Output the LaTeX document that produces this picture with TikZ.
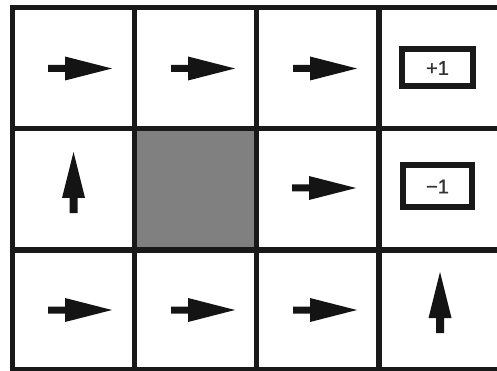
\documentclass[tikz,border=0pt]{standalone}
\usepackage{fontspec}
\setmainfont{Liberation Sans}
\begin{document}
\begin{tikzpicture}[x=1pt,y=-1pt,
  gridline/.style={line width=5.5pt,black!90},
  rewardbox/.style={draw=black!90,line width=6pt},
  rewardtext/.style={font=\fontsize{20}{20}\selectfont,text=black!80,inner sep=0pt},
  rarrow/.pic={\fill[black!92] (-32,-3.5) -- (-15,-3.5) -- (-15,-12) -- (32,0) -- (-15,12) -- (-15,3.5) -- (-32,3.5) -- cycle;},
  uarrow/.pic={\fill[black!92] (-4,30.5) -- (-4,15.5) -- (-11.5,15.5) -- (0,-30.5) -- (11.5,15.5) -- (4,15.5) -- (4,30.5) -- cycle;}]
\useasboundingbox (0,0) rectangle (497,371);
\clip (0,0) rectangle (497,371);
\fill[white] (0,0) rectangle (497,371);
% blocked cell
\fill[black!50] (134.5,128.5) rectangle (256.5,250);
% grid
\foreach \xx in {12.5,134.5,256.5,379,501}
  \draw[gridline] (\xx,5) -- (\xx,373);
\foreach \yy in {7.5,128.5,250,370}
  \draw[gridline] (10,\yy) -- (504,\yy);
% policy arrows
\pic at (80,68.5) {rarrow};
\pic at (203,68.5) {rarrow};
\pic at (325,68.5) {rarrow};
\pic at (324,188) {rarrow};
\pic at (80,310) {rarrow};
\pic at (203,310) {rarrow};
\pic at (325,310) {rarrow};
\pic at (73.5,182.5) {uarrow};
\pic at (440,302.5) {uarrow};
% terminal rewards
\draw[rewardbox] (402,49) rectangle (473,86);
\node[rewardtext] (plus) at (437.5,68) {\addfontfeature{FakeBold=1}+1};
\draw[rewardbox] (403,165) rectangle (472,207);
\node[rewardtext] (minus) at (437.5,186.5) {\addfontfeature{FakeBold=1}−1};
\end{tikzpicture}
\end{document}
